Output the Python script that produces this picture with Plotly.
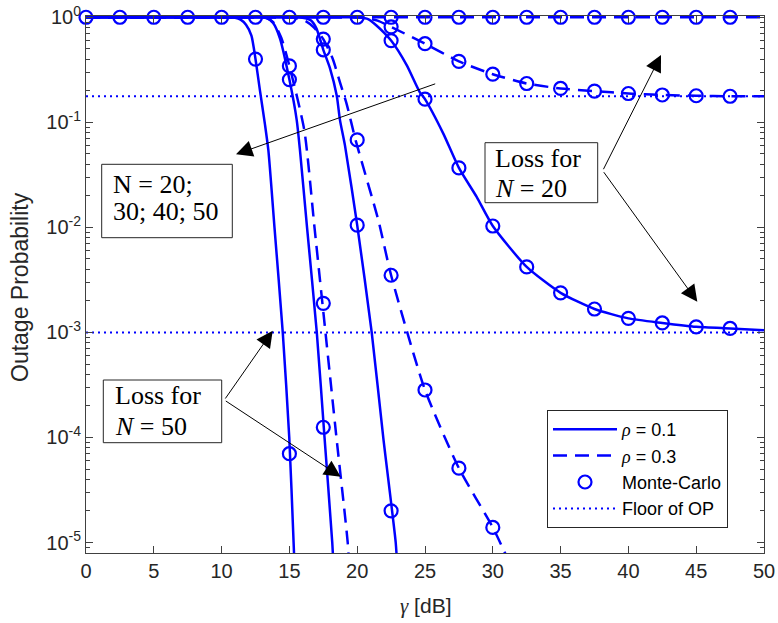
import plotly.graph_objects as go

BLUE = "#0000ff"
SANS = "Liberation Sans, Arial, sans-serif"
SERIF = "Liberation Serif, Times New Roman, serif"
GRAY = "#262626"

# ---------------- analytical curves (rho = 0.1, solid) ----------------
n50_r1_x = [0, 10, 11, 11.4, 11.8, 12.2, 12.5, 12.83, 13.2, 13.45, 13.9, 14.51, 14.99, 15.31, 15.4]
n50_r1_y = [1, 1, 0.99, 0.95, 0.85, 0.67, 0.40, 0.20, 0.095, 0.054, 0.01, 1e-3, 1e-4, 1e-5, 5e-6]

n40_r1_x = [0, 12, 12.8, 13.3, 13.8, 14.3, 15, 15.54, 15.78, 16.3, 17.02, 17.59, 18.16, 18.25]
n40_r1_y = [1, 1, 0.998, 0.985, 0.88, 0.63, 0.255, 0.105, 0.054, 0.01, 1e-3, 1e-4, 1e-5, 6e-6]

n30_r1_x = [0, 14.5, 15.5, 16.2, 16.6, 17.0, 17.5, 18.0, 18.49, 18.73, 19.1, 20.0, 21.07, 21.92, 22.84, 22.95]
n30_r1_y = [1, 1, 0.998, 0.98, 0.93, 0.78, 0.49, 0.325, 0.18, 0.105, 0.06, 0.0105, 1e-3, 1e-4, 1e-5, 6e-6]

n20_r1_x = [0, 19.5, 20.2, 20.8, 21.4, 22.5, 23.65, 24.6, 25, 26.35, 27.5, 28.81, 30, 32.5, 35, 37.5, 40, 42.5, 45, 47.5, 50]
n20_r1_y = [1, 1, 0.995, 0.96, 0.84, 0.60, 0.35, 0.195, 0.166, 0.078, 0.0368, 0.0195, 0.0103, 4.2e-3, 2.38e-3,
            1.67e-3, 1.36e-3, 1.23e-3, 1.13e-3, 1.09e-3, 1.05e-3]

# ---------------- analytical curves (rho = 0.3, dashed) ----------------
n50_r3_x = [0, 12, 12.8, 13.3, 13.8, 14.4, 15, 16.1, 16.85, 17.66, 18.47, 19.3, 19.4]
n50_r3_y = [1, 1, 0.998, 0.985, 0.9, 0.64, 0.344, 0.084, 0.01, 1e-3, 1e-4, 1e-5, 6e-6]

n40_r3_x = [0, 14, 15, 15.5, 16.2, 16.8, 17.5, 18.2, 18.73, 19.22, 19.89, 21.56, 22.5, 25, 27.5, 30, 31.1]
n40_r3_y = [1, 1, 0.995, 0.98, 0.92, 0.8, 0.62, 0.4, 0.24, 0.15, 0.067, 0.0117, 3.5e-3, 2.83e-4, 5.1e-5, 1.39e-5, 7e-6]

n30_r3_x = [0, 19.5, 20.5, 21.5, 22.5, 25, 27.5, 30, 32.5, 35, 37.5, 40, 42.5, 45, 47.5, 50]
n30_r3_y = [1, 1, 0.99, 0.93, 0.81, 0.56, 0.38, 0.287, 0.234, 0.21, 0.198, 0.188, 0.182, 0.179, 0.177, 0.177]

n20_r3_x = [0, 50]
n20_r3_y = [1, 1]

# ---------------- floors of OP ----------------
floor_x = [0, 50]
floor_hi = [0.177, 0.177]
floor_lo = [1e-3, 1e-3]

# ---------------- Monte-Carlo samples ----------------
mc_top_x = [0, 2.5, 5, 7.5, 10, 12.5, 15, 17.5, 20, 22.5, 25, 27.5, 30, 32.5, 35, 37.5, 40, 42.5, 45, 47.5]
mc_top_y = [1] * 20

mc_n50_r1_x = [12.5, 15]
mc_n50_r1_y = [0.40, 7e-5]
mc_n40_r1_x = [15, 17.5]
mc_n40_r1_y = [0.255, 1.25e-4]
mc_n50_r3_x = [15, 17.5]
mc_n50_r3_y = [0.344, 1.89e-3]
mc_n30_r1_x = [17.5, 20, 22.5]
mc_n30_r1_y = [0.49, 0.0105, 2.0e-5]
mc_n40_r3_x = [17.5, 20, 22.5, 25, 27.5, 30]
mc_n40_r3_y = [0.62, 0.068, 3.5e-3, 2.83e-4, 5.1e-5, 1.39e-5]
mc_n20_r1_x = [22.5, 25, 27.5, 30, 32.5, 35, 37.5, 40, 42.5, 45, 47.5]
mc_n20_r1_y = [0.60, 0.166, 0.0368, 0.0103, 4.2e-3, 2.38e-3, 1.67e-3, 1.36e-3, 1.23e-3, 1.13e-3, 1.09e-3]
mc_n30_r3_x = [22.5, 25, 27.5, 30, 32.5, 35, 37.5, 40, 42.5, 45, 47.5]
mc_n30_r3_y = [0.81, 0.56, 0.38, 0.287, 0.234, 0.21, 0.198, 0.188, 0.182, 0.179, 0.177]

xtick_vals = [0, 5, 10, 15, 20, 25, 30, 35, 40, 45, 50]
ytick_vals = [1e-5, 1e-4, 1e-3, 1e-2, 1e-1, 1]
ytick_text = ["10<sup>-5</sup>", "10<sup>-4</sup>", "10<sup>-3</sup>", "10<sup>-2</sup>",
              "10<sup>-1</sup>", "10<sup>0</sup>"]
minor_vals = [m * 10 ** e for e in range(-6, 0) for m in range(2, 10)]

fig = go.Figure()

LW = 2.5
DASH = "14px,8px"

def curve(x, y, dash, name=None, show=False, rank=None):
    fig.add_trace(go.Scatter(
        x=x, y=y, mode="lines", name=name, showlegend=show, legendrank=rank or 1000,
        line=dict(color=BLUE, width=LW, dash=dash, shape="spline", smoothing=0.6),
        hoverinfo="skip"))

# floors first (underneath)
fig.add_trace(go.Scatter(x=floor_x, y=floor_hi, mode="lines", name="Floor of OP", showlegend=True,
                         legendrank=4, line=dict(color=BLUE, width=2, dash="2px,4px"), hoverinfo="skip"))
fig.add_trace(go.Scatter(x=floor_x, y=floor_lo, mode="lines", showlegend=False,
                         line=dict(color=BLUE, width=2, dash="2px,4px"), hoverinfo="skip"))

rho1 = '<span style="font-family:Liberation Serif"><i>ρ</i></span> = 0.1'
rho3 = '<span style="font-family:Liberation Serif"><i>ρ</i></span> = 0.3'

curve(n50_r1_x, n50_r1_y, "solid", rho1, True, 1)
curve(n40_r1_x, n40_r1_y, "solid")
curve(n30_r1_x, n30_r1_y, "solid")
curve(n20_r1_x, n20_r1_y, "solid")
curve(n50_r3_x, n50_r3_y, DASH, rho3, True, 2)
curve(n40_r3_x, n40_r3_y, DASH)
curve(n30_r3_x, n30_r3_y, DASH)
curve(n20_r3_x, n20_r3_y, DASH)

mc_sets = [(mc_top_x, mc_top_y), (mc_n50_r1_x, mc_n50_r1_y), (mc_n40_r1_x, mc_n40_r1_y),
           (mc_n50_r3_x, mc_n50_r3_y), (mc_n30_r1_x, mc_n30_r1_y), (mc_n40_r3_x, mc_n40_r3_y),
           (mc_n20_r1_x, mc_n20_r1_y), (mc_n30_r3_x, mc_n30_r3_y)]
for i, (mx, my) in enumerate(mc_sets):
    fig.add_trace(go.Scatter(
        x=mx, y=my, mode="markers", name="Monte-Carlo", showlegend=(i == 0), legendrank=3,
        marker=dict(symbol="circle-open", size=13, color=BLUE, line=dict(width=2.2, color=BLUE)),
        cliponaxis=False, hoverinfo="skip"))

# ---------------- layout geometry ----------------
L, R, T, B = 86, 14, 16, 70
W, H = 778, 623
PW, PH = W - L - R, H - T - B

def px(xp):
    return (xp - L) / PW

def py(yp):
    return (H - B - yp) / PH

annotations = []
shapes = []

def box(x0, y0, x1, y1):
    shapes.append(dict(type="rect", xref="paper", yref="paper", x0=px(x0), x1=px(x1), y0=py(y1), y1=py(y0),
                       line=dict(color="#262626", width=1), fillcolor="white", layer="above"))

def label(x, y, text, size=26):
    annotations.append(dict(xref="paper", yref="paper", x=px(x), y=py(y), text=text, showarrow=False,
                            xanchor="left", yanchor="middle", font=dict(family=SERIF, size=size, color="black")))

def arrow(hx, hy, tx, ty):
    annotations.append(dict(xref="paper", yref="paper", x=px(hx), y=py(hy), ax=tx - hx, ay=ty - hy,
                            text="", showarrow=True, arrowhead=2, arrowsize=3.3, arrowwidth=1,
                            arrowcolor="black", standoff=0, startstandoff=0))

box(101.7, 164.3, 232.3, 237.7)
label(111, 184, "N = 20;")
label(111, 211, "30; 40; 50")

box(103.3, 380, 221.7, 442.7)
label(113, 396, "Loss for")
label(113, 426, "<i>N</i> = 50")

box(485, 142.7, 597.7, 202.7)
label(493, 158.7, "Loss for")
label(493, 188.7, "<i>N</i> = 20")

arrow(236, 154.3, 436.7, 83.3)
arrow(272.7, 330.7, 224.3, 400)
arrow(340.7, 476.7, 224.3, 400)
arrow(661, 55, 602.7, 170.7)
arrow(697.3, 301.7, 602.7, 170.7)

# axis titles as annotations (fixed positions like the reference)
annotations.append(dict(xref="paper", yref="paper", x=px(425), y=py(606), showarrow=False,
                        xanchor="center", yanchor="middle",
                        text='<span style="font-family:Liberation Serif"><i>γ</i></span> [dB]',
                        font=dict(family=SANS, size=21, color=GRAY)))
annotations.append(dict(xref="paper", yref="paper", x=px(20), y=py(287), showarrow=False,
                        xanchor="center", yanchor="middle", textangle=-90,
                        text="Outage Probability", font=dict(family=SANS, size=23, color=GRAY)))

axis_common = dict(showline=True, linecolor="#404040", linewidth=1, mirror="allticks", ticks="inside",
                   showgrid=False, zeroline=False, tickcolor="#404040", automargin=False,
                   tickfont=dict(family=SANS, size=20, color=GRAY))

fig.update_layout(
    width=W, height=H,
    margin=dict(l=L, r=R, t=T, b=B, pad=0, autoexpand=False),
    paper_bgcolor="white", plot_bgcolor="white",
    xaxis=dict(range=[0, 50], tickvals=xtick_vals, ticklen=7, **axis_common),
    yaxis=dict(type="log", range=[-5.1, 0.012], tickvals=ytick_vals, ticktext=ytick_text, ticklen=7,
               minor=dict(tickmode="array", tickvals=minor_vals, ticks="inside", ticklen=4, tickcolor="#404040"),
               **axis_common),
    legend=dict(x=px(547), y=py(410), xanchor="left", yanchor="top", bgcolor="white",
                bordercolor="#262626", borderwidth=1, font=dict(family=SANS, size=18, color="black"),
                itemwidth=64, tracegroupgap=0),
    annotations=annotations,
    shapes=shapes,
    showlegend=True,
)

fig.write_html("out.html", config={"displayModeBar": False},
               post_script="document.body.style.margin='0';document.body.style.overflow='hidden';")
